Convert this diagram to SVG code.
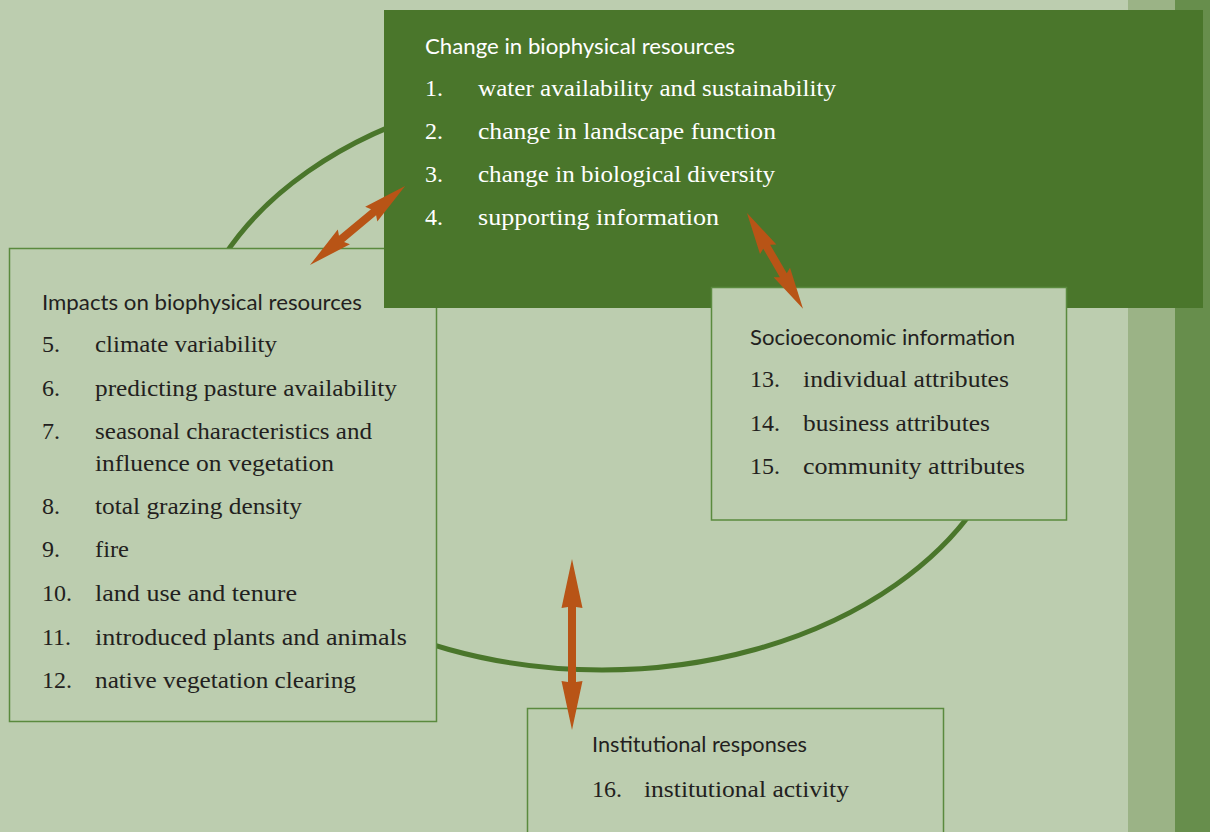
<svg xmlns="http://www.w3.org/2000/svg" width="1210" height="832" viewBox="0 0 1210 832">
<defs>
<style>
.box{fill:#bccdaf;stroke:#5a8a3e;stroke-width:1.5}
.dark{fill:#4a762b}
.h{font-family:Lato,"Open Sans","Liberation Sans",sans-serif;font-size:21px;fill:#231f20}
.t{font-family:"Liberation Serif","DejaVu Serif",serif;font-size:24px;fill:#231f20}
.w{fill:#ffffff}
.arrow{fill:#b85416}
</style>
</defs>
<rect x="0" y="0" width="1210" height="832" fill="#bccdaf"/>
<rect x="1128" y="0" width="47" height="832" fill="#9bb386"/>
<rect x="1175" y="0" width="35" height="832" fill="#678e4c"/>

<g id="connectors-ring">
<ellipse cx="602" cy="378" rx="416" ry="292" fill="none" stroke="#4a762b" stroke-width="5"/>
</g>

<g id="node-impacts">
<rect class="box" x="9.5" y="248.5" width="427" height="473"/>
<text class="h" x="42" y="310" textLength="320" lengthAdjust="spacingAndGlyphs">Impacts on biophysical resources</text>
<text class="t" x="42" y="352">5.</text><text class="t" x="95" y="352" textLength="182" lengthAdjust="spacingAndGlyphs">climate variability</text>
<text class="t" x="42" y="396">6.</text><text class="t" x="95" y="396" textLength="302" lengthAdjust="spacingAndGlyphs">predicting pasture availability</text>
<text class="t" x="42" y="439">7.</text><text class="t" x="95" y="439" textLength="277" lengthAdjust="spacingAndGlyphs">seasonal characteristics and</text>
<text class="t" x="95" y="471" textLength="239" lengthAdjust="spacingAndGlyphs">influence on vegetation</text>
<text class="t" x="42" y="514">8.</text><text class="t" x="95" y="514" textLength="207" lengthAdjust="spacingAndGlyphs">total grazing density</text>
<text class="t" x="42" y="557">9.</text><text class="t" x="95" y="557" textLength="34" lengthAdjust="spacingAndGlyphs">fire</text>
<text class="t" x="42" y="601">10.</text><text class="t" x="95" y="601" textLength="202" lengthAdjust="spacingAndGlyphs">land use and tenure</text>
<text class="t" x="42" y="645">11.</text><text class="t" x="95" y="645" textLength="312" lengthAdjust="spacingAndGlyphs">introduced plants and animals</text>
<text class="t" x="42" y="688">12.</text><text class="t" x="95" y="688" textLength="261" lengthAdjust="spacingAndGlyphs">native vegetation clearing</text>
</g>

<g id="node-change">
<rect class="dark" x="384" y="10" width="819" height="298"/>
<text class="h w" x="425" y="54" textLength="310" lengthAdjust="spacingAndGlyphs">Change in biophysical resources</text>
<text class="t w" x="425" y="96">1.</text><text class="t w" x="478" y="96" textLength="358" lengthAdjust="spacingAndGlyphs">water availability and sustainability</text>
<text class="t w" x="425" y="139">2.</text><text class="t w" x="478" y="139" textLength="298" lengthAdjust="spacingAndGlyphs">change in landscape function</text>
<text class="t w" x="425" y="182">3.</text><text class="t w" x="478" y="182" textLength="297" lengthAdjust="spacingAndGlyphs">change in biological diversity</text>
<text class="t w" x="425" y="225">4.</text><text class="t w" x="478" y="225" textLength="241" lengthAdjust="spacingAndGlyphs">supporting information</text>
</g>

<g id="node-socio">
<rect class="box" x="711.5" y="287.5" width="355" height="232.5"/>
<text class="h" x="750" y="345" textLength="265" lengthAdjust="spacingAndGlyphs">Socioeconomic information</text>
<text class="t" x="750" y="387">13.</text><text class="t" x="803" y="387" textLength="206" lengthAdjust="spacingAndGlyphs">individual attributes</text>
<text class="t" x="750" y="431">14.</text><text class="t" x="803" y="431" textLength="187" lengthAdjust="spacingAndGlyphs">business attributes</text>
<text class="t" x="750" y="474">15.</text><text class="t" x="803" y="474" textLength="222" lengthAdjust="spacingAndGlyphs">community attributes</text>
</g>

<g id="node-institutional">
<rect class="box" x="527.5" y="708.5" width="416" height="140"/>
<text class="h" x="592" y="752" textLength="215" lengthAdjust="spacingAndGlyphs">Institutional responses</text>
<text class="t" x="592" y="797">16.</text><text class="t" x="644" y="797" textLength="205" lengthAdjust="spacingAndGlyphs">institutional activity</text>
</g>

<g id="connectors">
<path class="arrow" transform="translate(310,265) rotate(-39.7)" d="M0,0 L44,-9.5 L41,-4 L82.6,-4 L79.6,-9.5 L123.6,0 L79.6,9.5 L82.6,4 L41,4 L44,9.5 Z"/>
<path class="arrow" transform="translate(747,213) rotate(59.7)" d="M0,0 L42,-9.5 L39,-4 L72,-4 L69,-9.5 L111,0 L69,9.5 L72,4 L39,4 L42,9.5 Z"/>
<path class="arrow" transform="translate(572,559) rotate(90)" d="M0,0 L49,-10.5 L48,-4 L123,-4 L122,-10.5 L171,0 L122,10.5 L123,4 L48,4 L49,10.5 Z"/>
</g>
</svg>
